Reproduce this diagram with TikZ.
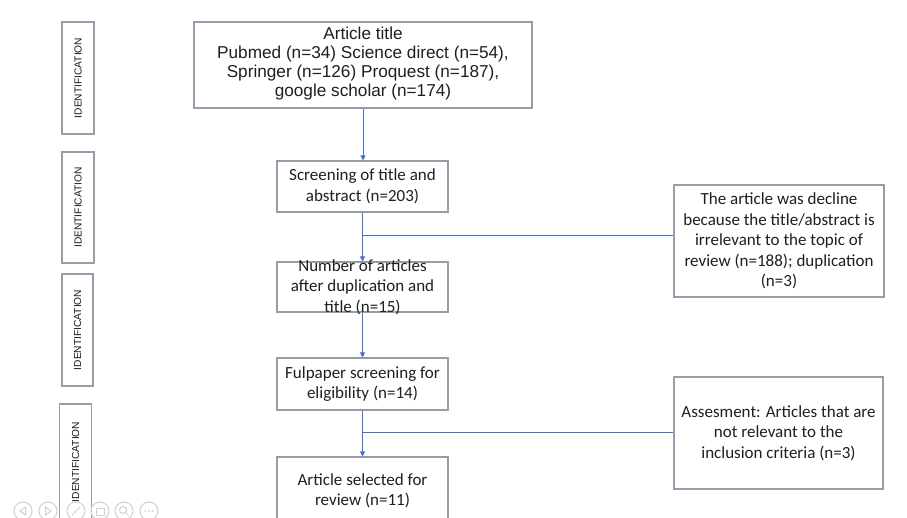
\documentclass[tikz,border=0pt]{standalone}
\usepackage{fontspec}
\setmainfont{Carlito}
\newfontfamily\arialf{Liberation Sans}
\usetikzlibrary{arrows.meta,calc}
\definecolor{boxgray}{RGB}{150,156,168}
\definecolor{lineblue}{RGB}{68,114,196}
\definecolor{icongray}{RGB}{208,208,208}
\begin{document}
\begin{tikzpicture}[x=1pt,y=-1pt,
  frame/.style={draw=boxgray, line width=1.1pt, inner sep=0pt, fill=white},
  txt/.style={align=center, text=black!88, inner sep=0pt, font=\fontsize{17}{20.5}\selectfont},
  arialtxt/.style={align=center, text=black!88, inner sep=0pt, font=\arialf\fontsize{17.2}{19}\selectfont},
  idtext/.style={rotate=90, inner sep=0pt, text=black!90, font=\arialf\fontsize{10.2}{12}\selectfont},
  conn/.style={draw=lineblue, line width=0.8pt},
  arr/.style={conn, -{Triangle[length=5pt,width=5pt]}},
  icon/.style={draw=icongray, line width=1pt},
]
\clip (0,0) rectangle (907,518);
\fill[white] (0,0) rectangle (907,518);

% identification side boxes
\node[frame, minimum width=32pt, minimum height=112pt] (id1) at (78,78) {};
\node[idtext] (id1t) at (id1) {IDENTIFICATION};
\node[frame, minimum width=32pt, minimum height=111pt] (id2) at (78,207.5) {};
\node[idtext] (id2t) at (id2) {IDENTIFICATION};
\node[frame, minimum width=31pt, minimum height=112pt] (id3) at (77.5,330) {};
\node[idtext] (id3t) at (id3) {IDENTIFICATION};
\node[frame, minimum width=32pt, minimum height=124pt] (id4) at (75.5,466) {};
\node[idtext] (id4t) at (75.5,462) {IDENTIFICATION};

% main column
\node[frame, minimum width=338pt, minimum height=86pt] (top) at (363,65) {};
\node[arialtxt] (topt) at (363,64) {Article title\\Pubmed (n=34) Science direct (n=54),\\Springer (n=126) Proquest (n=187),\\google scholar (n=174)};

\node[frame, minimum width=171pt, minimum height=51pt] (scr) at (362.5,186.5) {};
\node[txt] (scrt) at (scr) {Screening of title and\\abstract (n=203)};

\node[frame, minimum width=171pt, minimum height=50pt] (num) at (362.5,287) {};
\node[txt] (numt) at (num) {Number of articles\\after duplication and\\title (n=15)};

\node[frame, minimum width=171pt, minimum height=52pt] (ful) at (362.5,384) {};
\node[txt] (fult) at (ful) {Fulpaper screening for\\eligibility (n=14)};

\node[frame, minimum width=171pt, minimum height=68pt] (art) at (362.5,491) {};
\node[txt] (artt) at (art) {Article selected for\\review (n=11)};

% right boxes
\node[frame, minimum width=210pt, minimum height=112pt] (r1) at (779,241) {};
\node[txt] (r1t) at (r1) {The article was decline\\because the title/abstract is\\irrelevant to the topic of\\review (n=188); duplication\\(n=3)};

\node[frame, minimum width=209pt, minimum height=112pt] (r2) at (778.5,433) {};
\node[txt] (r2t) at (r2) {Assesment: Articles that are\\not relevant to the\\inclusion criteria (n=3)};

% connectors
\draw[arr] (top.south) -- (top.south |- scr.north);
\draw[arr] (scr.south) -- (num.north);
\draw[arr] (num.south) -- (ful.north);
\draw[arr] (ful.south) -- (art.north);
\coordinate (b1) at (362.5,235);
\coordinate (b2) at (362.5,432);
\draw[conn] (b1) -- (b1 -| r1.west);
\draw[conn] (b2) -- (b2 -| r2.west);

% viewer toolbar (faint)
\foreach \cx/\nm in {23/ic1,48/ic2,76/ic3,100/ic4,124/ic5,149/ic6}{
  \node[icon, circle, minimum size=18pt, inner sep=0pt] (\nm) at (\cx,511) {};
}
\draw[icon] ($(ic1)+(2.5,-4)$) -- ($(ic1)+(-3,0)$) -- ($(ic1)+(2.5,4)$) -- cycle;
\draw[icon] ($(ic2)+(-2.5,-4)$) -- ($(ic2)+(3,0)$) -- ($(ic2)+(-2.5,4)$) -- cycle;
\draw[icon] ($(ic3)+(-4,4)$) -- ($(ic3)+(4,-4)$);
\draw[icon] ($(ic4)+(-4,-3)$) rectangle ($(ic4)+(4,4)$);
\draw[icon] ($(ic5)+(-1,-1)$) circle (3.5pt);
\draw[icon] ($(ic5)+(1.5,1.5)$) -- ($(ic5)+(4.5,4.5)$);
\foreach \dx in {-3.5,0,3.5}{\fill[icongray] ($(ic6)+(\dx,0)$) circle (1pt);}
\end{tikzpicture}
\end{document}
